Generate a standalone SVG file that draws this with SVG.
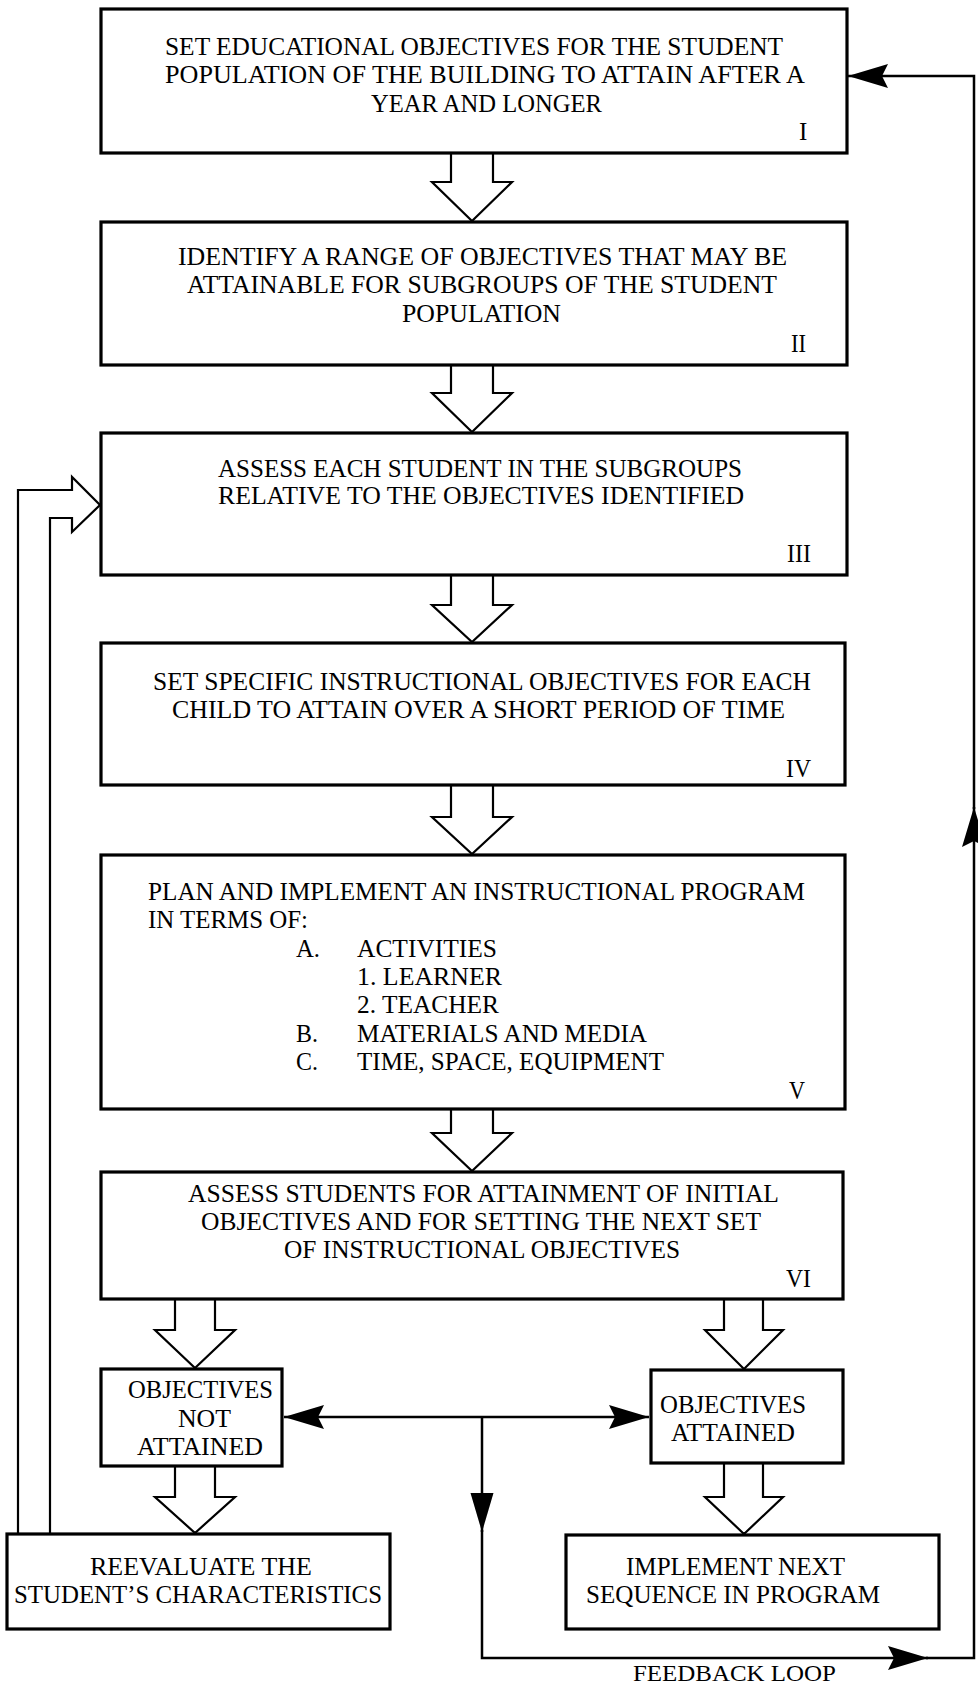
<svg xmlns="http://www.w3.org/2000/svg" width="978" height="1688" viewBox="0 0 978 1688">
<style>
.box{fill:#fff;stroke:#000;stroke-width:3.2}
.harrow{fill:#fff;stroke:#000;stroke-width:2.2;stroke-linejoin:miter}
.con{fill:none;stroke:#000;stroke-width:2.5}
text{font-family:"Liberation Serif","Times New Roman",serif;font-size:25px;fill:#000}
.b text{font-size:26px}
.lbl text{font-size:24px}
</style>
<defs>
<marker id="notch" markerUnits="userSpaceOnUse" markerWidth="1" markerHeight="1" refX="0" refY="0" orient="auto-start-reverse" overflow="visible">
<path d="M0,0 L-40,-12 L-34,0 L-40,12 Z" fill="#000"/>
</marker>
<marker id="tri" markerUnits="userSpaceOnUse" markerWidth="1" markerHeight="1" refX="0" refY="0" orient="auto" overflow="visible">
<path d="M0,0 L-39,-11.5 L-39,11.5 Z" fill="#000"/>
</marker>
</defs>

<g id="connectors">
<path class="harrow" d="M451,153 V182 H432 L472,221 L512,182 H493 V153"/>
<path class="harrow" d="M451,365 V393 H432 L472,432 L512,393 H493 V365"/>
<path class="harrow" d="M451,575 V605 H432 L472,642 L512,605 H493 V575"/>
<path class="harrow" d="M451,785 V817 H432 L472,854 L512,817 H493 V785"/>
<path class="harrow" d="M451,1109 V1133 H432 L472,1171 L512,1133 H493 V1109"/>
<path class="harrow" d="M175,1299 V1330 H155 L195,1368 L235,1330 H215 V1299"/>
<path class="harrow" d="M175,1466 V1497 H155 L195,1533 L235,1497 H215 V1466"/>
<path class="harrow" d="M724,1299 V1330 H705 L744,1369 L783,1330 H763 V1299"/>
<path class="harrow" d="M724,1463 V1497 H705 L744,1534 L783,1497 H763 V1463"/>
<path class="harrow" d="M18,1534 V490 H72 V477 L100,505 L72,532 V518 H50 V1534"/>
<path class="con" d="M284,1417 H649" marker-start="url(#notch)" marker-end="url(#notch)"/>
<path class="con" d="M482,1417 V1532" marker-end="url(#tri)"/>
<path class="con" d="M482,1530 V1658 H928" marker-end="url(#notch)"/>
<path class="con" d="M926,1658 H974 V807" marker-end="url(#notch)"/>
<path class="con" d="M974,809 V76 H848" marker-end="url(#notch)"/>
</g>

<g id="node-1">
<rect class="box" x="101" y="9" width="746" height="144"/>
<text x="165" y="55" textLength="618" lengthAdjust="spacingAndGlyphs">SET EDUCATIONAL OBJECTIVES FOR THE STUDENT</text>
<text x="165" y="83" textLength="640" lengthAdjust="spacingAndGlyphs">POPULATION OF THE BUILDING TO ATTAIN AFTER A</text>
<text x="371" y="112" textLength="231" lengthAdjust="spacingAndGlyphs">YEAR AND LONGER</text>
<text x="799" y="140">I</text>
</g>

<g id="node-2">
<rect class="box" x="101" y="222" width="746" height="143"/>
<text x="178" y="265" textLength="609" lengthAdjust="spacingAndGlyphs">IDENTIFY A RANGE OF OBJECTIVES THAT MAY BE</text>
<text x="187" y="293" textLength="590" lengthAdjust="spacingAndGlyphs">ATTAINABLE FOR SUBGROUPS OF THE STUDENT</text>
<text x="402" y="322" textLength="159" lengthAdjust="spacingAndGlyphs">POPULATION</text>
<text x="791" y="352" textLength="15" lengthAdjust="spacingAndGlyphs">II</text>
</g>

<g id="node-3">
<rect class="box" x="101" y="433" width="746" height="142"/>
<text x="218" y="477" textLength="524" lengthAdjust="spacingAndGlyphs">ASSESS EACH STUDENT IN THE SUBGROUPS</text>
<text x="218" y="504" textLength="526" lengthAdjust="spacingAndGlyphs">RELATIVE TO THE OBJECTIVES IDENTIFIED</text>
<text x="787" y="562" textLength="24" lengthAdjust="spacingAndGlyphs">III</text>
</g>

<g id="node-4">
<rect class="box" x="101" y="643" width="744" height="142"/>
<text x="153" y="690" textLength="658" lengthAdjust="spacingAndGlyphs">SET SPECIFIC INSTRUCTIONAL OBJECTIVES FOR EACH</text>
<text x="172" y="718" textLength="613" lengthAdjust="spacingAndGlyphs">CHILD TO ATTAIN OVER A SHORT PERIOD OF TIME</text>
<text x="786" y="777" textLength="25" lengthAdjust="spacingAndGlyphs">IV</text>
</g>

<g id="node-5">
<rect class="box" x="101" y="855" width="744" height="254"/>
<text x="148" y="900" textLength="657" lengthAdjust="spacingAndGlyphs">PLAN AND IMPLEMENT AN INSTRUCTIONAL PROGRAM</text>
<text x="148" y="928" textLength="160" lengthAdjust="spacingAndGlyphs">IN TERMS OF:</text>
<text x="296" y="957" textLength="24" lengthAdjust="spacingAndGlyphs">A.</text>
<text x="357" y="957" textLength="140" lengthAdjust="spacingAndGlyphs">ACTIVITIES</text>
<text x="357" y="985" textLength="145" lengthAdjust="spacingAndGlyphs">1. LEARNER</text>
<text x="357" y="1013" textLength="142" lengthAdjust="spacingAndGlyphs">2. TEACHER</text>
<text x="296" y="1042" textLength="22" lengthAdjust="spacingAndGlyphs">B.</text>
<text x="357" y="1042" textLength="290" lengthAdjust="spacingAndGlyphs">MATERIALS AND MEDIA</text>
<text x="296" y="1070" textLength="22" lengthAdjust="spacingAndGlyphs">C.</text>
<text x="357" y="1070" textLength="307" lengthAdjust="spacingAndGlyphs">TIME, SPACE, EQUIPMENT</text>
<text x="789" y="1099" textLength="16" lengthAdjust="spacingAndGlyphs">V</text>
</g>

<g id="node-6">
<rect class="box" x="101" y="1172" width="742" height="127"/>
<text x="188" y="1202" textLength="591" lengthAdjust="spacingAndGlyphs">ASSESS STUDENTS FOR ATTAINMENT OF INITIAL</text>
<text x="201" y="1230" textLength="560" lengthAdjust="spacingAndGlyphs">OBJECTIVES AND FOR SETTING THE NEXT SET</text>
<text x="284" y="1258" textLength="396" lengthAdjust="spacingAndGlyphs">OF INSTRUCTIONAL OBJECTIVES</text>
<text x="786" y="1287" textLength="25" lengthAdjust="spacingAndGlyphs">VI</text>
</g>

<g id="node-not-attained" class="b">
<rect class="box" x="101" y="1369" width="181" height="97"/>
<text x="128" y="1398" textLength="145" lengthAdjust="spacingAndGlyphs">OBJECTIVES</text>
<text x="178" y="1427" textLength="53" lengthAdjust="spacingAndGlyphs">NOT</text>
<text x="137" y="1455" textLength="126" lengthAdjust="spacingAndGlyphs">ATTAINED</text>
</g>

<g id="node-attained" class="b">
<rect class="box" x="651" y="1370" width="192" height="93"/>
<text x="660" y="1413" textLength="146" lengthAdjust="spacingAndGlyphs">OBJECTIVES</text>
<text x="671" y="1441" textLength="124" lengthAdjust="spacingAndGlyphs">ATTAINED</text>
</g>

<g id="node-reevaluate" class="b">
<rect class="box" x="7" y="1534" width="383" height="95"/>
<text x="90" y="1575" textLength="222" lengthAdjust="spacingAndGlyphs">REEVALUATE THE</text>
<text x="14" y="1603" textLength="368" lengthAdjust="spacingAndGlyphs">STUDENT’S CHARACTERISTICS</text>
</g>

<g id="node-implement" class="b">
<rect class="box" x="566" y="1535" width="373" height="94"/>
<text x="626" y="1575" textLength="219" lengthAdjust="spacingAndGlyphs">IMPLEMENT NEXT</text>
<text x="586" y="1603" textLength="294" lengthAdjust="spacingAndGlyphs">SEQUENCE IN PROGRAM</text>
</g>

<g id="label-feedback" class="lbl">
<text x="633" y="1681" textLength="203" lengthAdjust="spacingAndGlyphs">FEEDBACK LOOP</text>
</g>
</svg>
